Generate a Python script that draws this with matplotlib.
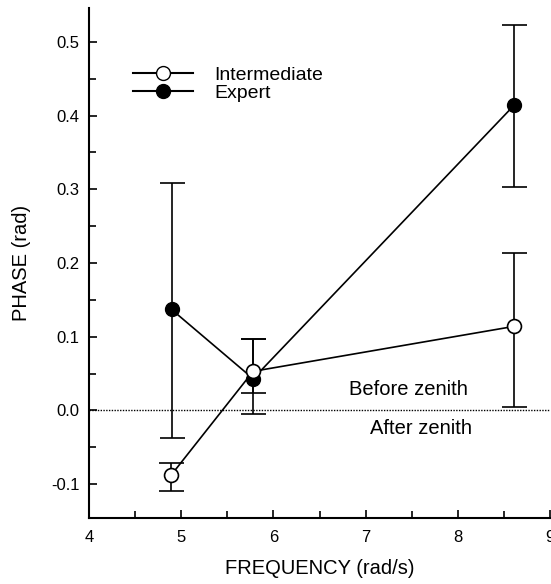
import matplotlib
matplotlib.use("Agg")
import matplotlib.pyplot as plt
from matplotlib.lines import Line2D
from matplotlib.ticker import MultipleLocator

plt.rcParams['font.family'] = ['Liberation Sans', 'DejaVu Sans']

freq_int = [4.89, 5.78, 8.61]
phase_int = [-0.088, 0.053, 0.114]
err_int_low = [0.022, 0.030, 0.109]
err_int_high = [0.017, 0.044, 0.099]

freq_exp = [4.895, 5.78, 8.61]
phase_exp = [0.137, 0.043, 0.414]
err_exp_low = [0.175, 0.048, 0.111]
err_exp_high = [0.171, 0.054, 0.109]

fig = plt.figure(figsize=(5.51, 5.84), dpi=100)
ax = fig.add_axes([89/551, 66/584, 461/551, 510/584])

ax.axhline(0.0, color='black', linestyle=(0, (1, 1)), linewidth=1.0, zorder=1)

ax.errorbar(freq_exp, phase_exp, yerr=[err_exp_low, err_exp_high], color='black',
            marker='o', markersize=10, markerfacecolor='black', markeredgecolor='black',
            linewidth=1.2, elinewidth=1.2, capsize=9, capthick=1.2, zorder=2)
ax.errorbar(freq_int, phase_int, yerr=[err_int_low, err_int_high], color='black',
            marker='o', markersize=10, markerfacecolor='white', markeredgecolor='black',
            markeredgewidth=1.2, linewidth=1.2, elinewidth=1.2, capsize=9, capthick=1.2, zorder=3)

ax.set_xlim(4, 9)
ax.set_ylim(-0.146, 0.546)
ax.xaxis.set_minor_locator(MultipleLocator(0.5))
ax.yaxis.set_minor_locator(MultipleLocator(0.05))
ax.set_xticks([4, 5, 6, 7, 8, 9])
ax.set_xticklabels(['4', '5', '6', '7', '8', '9'])
ax.set_yticks([-0.1, 0.0, 0.1, 0.2, 0.3, 0.4, 0.5])
ax.set_yticklabels(['-0.1', '0.0', '0.1', '0.2', '0.3', '0.4', '0.5'])
ax.tick_params(which='both', direction='in', width=1.2, labelsize=12)
ax.tick_params(axis='y', pad=7)
ax.tick_params(axis='x', pad=9)
ax.tick_params(which='major', length=6)
ax.tick_params(which='minor', length=5)
for s in ['top', 'right']:
    ax.spines[s].set_visible(False)
for s in ['left', 'bottom']:
    ax.spines[s].set_linewidth(1.5)

ax.set_xlabel('FREQUENCY (rad/s)', fontsize=14.5, labelpad=10)
ax.set_ylabel('PHASE (rad)', fontsize=14.5, labelpad=14)

ax.text(7.47, 0.028, 'Before zenith', fontsize=14.5, ha='center', va='center')
ax.text(7.6, -0.025, 'After zenith', fontsize=14.5, ha='center', va='center')

handles = [Line2D([], [], color='black', linewidth=1.5, marker='o', markersize=10,
                  markerfacecolor='white', markeredgecolor='black'),
           Line2D([], [], color='black', linewidth=1.5, marker='o', markersize=10,
                  markerfacecolor='black', markeredgecolor='black')]
ax.legend(handles, ['Intermediate', 'Expert'], loc='upper left',
          bbox_to_anchor=(0.0955, 0.885), frameon=False, fontsize=14,
          handlelength=3.1, handletextpad=1.1, labelspacing=0.0, borderpad=0,
          borderaxespad=0)

fig.savefig('out.png', dpi=100)
